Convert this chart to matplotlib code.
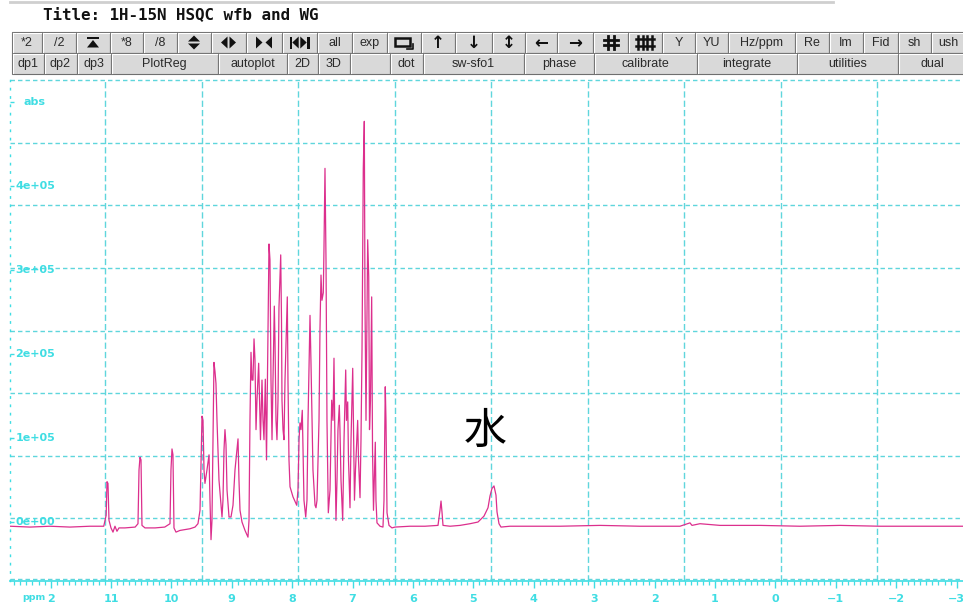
import numpy as np
import matplotlib
matplotlib.use('Agg')
import matplotlib.pyplot as plt
from matplotlib.patches import Rectangle, Polygon
from matplotlib.transforms import blended_transform_factory

plt.rcParams['lines.scale_dashes'] = False

CYAN = '#3fdde3'
GRID = '#5fd6dc'
PINK = '#dc2f8d'

# ---- 1H trace: ppm / intensity (units of 1e5) ----
left_ppm = [12.67, 12.34, 12.01, 11.68, 11.35, 11.12, 11.08, 11.066, 11.05, 11.033,
            11.00, 10.967, 10.934, 10.901, 10.868, 10.77, 10.60, 10.553, 10.536, 10.52,
            10.503, 10.487, 10.437, 10.27, 10.11, 10.023, 10.007, 9.99, 9.974, 9.957,
            9.924, 9.858, 9.692, 9.609, 9.56]
left_int = [-0.05, -0.06, -0.05, -0.06, -0.05, -0.05, 0.08, 0.48, 0.46, 0.02,
            -0.07, -0.12, -0.05, -0.11, -0.07, -0.07, -0.06, -0.02, 0.62, 0.77,
            0.74, -0.04, -0.07, -0.07, -0.06, -0.02, 0.62, 0.87, 0.80, -0.07,
            -0.12, -0.10, -0.08, -0.06, -0.02]

amide_ppm = [9.526, 9.493, 9.477, 9.460, 9.444, 9.411, 9.377, 9.361, 9.344, 9.328,
             9.311, 9.295, 9.278, 9.262, 9.245, 9.212, 9.179, 9.162, 9.146, 9.129,
             9.113, 9.096, 9.079, 9.046, 9.013, 8.980, 8.947, 8.914, 8.897, 8.881,
             8.864, 8.831, 8.781, 8.732, 8.715, 8.699, 8.682, 8.666, 8.649, 8.632,
             8.616, 8.599, 8.583, 8.555, 8.541, 8.525, 8.500, 8.483, 8.467, 8.445,
             8.425, 8.401, 8.384, 8.368, 8.351, 8.334, 8.318, 8.296, 8.285, 8.268,
             8.252, 8.235, 8.219, 8.190, 8.177, 8.169, 8.152, 8.136, 8.119, 8.081,
             8.070, 8.053, 8.036, 7.987, 7.925, 7.904, 7.887, 7.871, 7.854, 7.833,
             7.821, 7.805, 7.776, 7.755, 7.738, 7.714, 7.705, 7.689, 7.672, 7.656,
             7.622, 7.606, 7.589, 7.556, 7.540, 7.523, 7.507, 7.485, 7.474, 7.457,
             7.440, 7.424, 7.402, 7.374, 7.346, 7.325, 7.308, 7.291, 7.275, 7.258,
             7.242, 7.220, 7.209, 7.192, 7.164, 7.142, 7.114, 7.101, 7.081, 7.068,
             7.043, 7.026, 6.998, 6.985, 6.969, 6.952, 6.916, 6.902, 6.877, 6.861,
             6.844, 6.823, 6.806, 6.795, 6.778, 6.750, 6.733, 6.720, 6.704, 6.684,
             6.670, 6.654, 6.637, 6.624, 6.613, 6.596, 6.546, 6.497, 6.480, 6.459,
             6.447, 6.430, 6.397, 6.348]
amide_int = [0.14, 1.26, 1.21, 0.62, 0.46, 0.62, 0.80, 0.26, -0.21, 0.02,
             0.98, 1.90, 1.79, 1.65, 1.21, 0.50, 0.20, 0.06, 0.26, 0.86,
             1.10, 0.92, 0.38, 0.06, 0.06, 0.20, 0.62, 0.86, 0.99, 0.50,
             0.14, 0.00, -0.10, -0.18, 0.02, 1.21, 2.02, 1.69, 1.69, 2.18,
             1.93, 1.10, 1.45, 1.89, 1.45, 0.98, 1.69, 1.21, 0.98, 1.70,
             0.74, 2.29, 3.31, 3.12, 1.69, 0.98, 1.69, 2.57, 2.17, 1.21,
             0.98, 1.45, 2.55, 3.18, 2.40, 1.45, 1.10, 0.98, 1.69, 2.68,
             1.69, 0.74, 0.42, 0.30, 0.20, 0.38, 0.98, 1.18, 1.10, 1.33,
             0.86, 0.26, 0.06, 0.26, 1.21, 2.17, 2.46, 1.90, 1.21, 0.62,
             0.20, 0.17, 0.26, 1.21, 2.29, 2.94, 2.64, 2.73, 3.24, 4.21,
             3.10, 1.21, 0.11, 0.38, 1.45, 1.21, 1.95, 0.86, 0.02, 0.50,
             1.10, 1.39, 1.10, 0.50, 0.02, 0.98, 1.81, 1.21, 1.43, 0.74,
             0.17, 0.98, 1.83, 1.10, 0.26, 0.62, 1.21, 0.74, 0.29, 0.98,
             2.05, 4.21, 4.77, 2.64, 1.21, 3.36, 2.92, 1.10, 1.45, 2.68,
             0.86, 0.14, 0.62, 0.95, 0.26, -0.01, -0.05, -0.06, 0.26, 1.61,
             1.21, 0.11, -0.04, -0.07]

tail_ppm = [6.298, 6.050, 5.801, 5.586, 5.553, 5.536, 5.520, 5.503, 5.387, 5.222,
            5.056, 4.924, 4.825, 4.758, 4.725, 4.692, 4.659, 4.626, 4.609, 4.576,
            4.543, 4.394, 4.063, 3.566, 2.904, 2.242, 1.580, 1.414, 1.381, 1.249,
            0.917, 0.255, -0.407, -1.069, -1.732, -2.394, -3.106]
tail_int = [-0.06, -0.05, -0.05, -0.04, 0.14, 0.25, 0.12, -0.04, -0.05, -0.04,
            -0.02, 0.00, 0.07, 0.17, 0.31, 0.40, 0.43, 0.32, 0.12, -0.02,
            -0.06, -0.05, -0.05, -0.05, -0.04, -0.05, -0.05, -0.01, -0.04, -0.02,
            -0.04, -0.04, -0.05, -0.04, -0.05, -0.05, -0.05]

x_ticks = [12, 11, 10, 9, 8, 7, 6, 5, 4, 3, 2, 1, 0, -1, -2, -3]
x_tick_labels = ['2', '11', '10', '9', '8', '7', '6', '5', '4', '3', '2', '1', '0',
                 '\u22121', '\u22122', '\u22123']
y_ticks = [0, 1e5, 2e5, 3e5, 4e5, 5e5]
y_tick_labels = ['0e+00', '1e+05', '2e+05', '3e+05', '4e+05', 'abs']

title_text = 'Title: 1H-15N HSQC wfb and WG'
water_label = '\u6c34'

row1_labels = ['*2', '/2', '@top', '*8', '/8', '@updown', '@lr', '@rl', '@lrbar', 'all',
               'exp', '@rect', '\u2191', '\u2193', '\u2195', '\u2190', '\u2192', '@grid',
               '@grid2', 'Y', 'YU', 'Hz/ppm', 'Re', 'Im', 'Fid', 'sh', 'ush']
row1_edges = [12, 42, 76, 110, 143, 177, 211, 246, 282, 317, 352, 387, 421, 455, 492,
              525, 557, 593, 628, 662, 695, 728, 795, 829, 863, 898, 931, 966]
row2_labels = ['dp1', 'dp2', 'dp3', 'PlotReg', 'autoplot', '2D', '3D', '', 'dot',
               'sw-sfo1', 'phase', 'calibrate', 'integrate', 'utilities', 'dual']
row2_edges = [12, 44, 77, 111, 218, 287, 318, 350, 390, 423, 524, 594, 697, 797, 898, 966]

W, H = 963, 608
fig = plt.figure(figsize=(W / 100, H / 100), dpi=100)

# ---- window chrome in pixel coordinates ----
chrome = fig.add_axes([0, 0, 1, 1])
chrome.set_xlim(0, W)
chrome.set_ylim(H, 0)
chrome.axis('off')

chrome.plot([10, 833], [2, 2], color='#cfcfcf', lw=2)
chrome.text(43, 15, title_text, family='DejaVu Sans Mono', fontweight='bold',
            fontsize=11.4, ha='left', va='center', color='#111111')


def poly(pts):
    chrome.add_patch(Polygon(pts, closed=True, facecolor='#111111', edgecolor='none'))


def icon(name, cx, cy):
    if name == '@top':
        chrome.add_patch(Rectangle((cx - 6, cy - 6), 12, 2.2, facecolor='#111111'))
        poly([(cx - 6, cy + 5), (cx + 6, cy + 5), (cx, cy - 2.5)])
    elif name == '@updown':
        poly([(cx - 6, cy - 1), (cx + 6, cy - 1), (cx, cy - 7)])
        poly([(cx - 6, cy + 1), (cx + 6, cy + 1), (cx, cy + 7)])
    elif name == '@lr':
        poly([(cx - 1, cy - 6), (cx - 1, cy + 6), (cx - 7.5, cy)])
        poly([(cx + 1, cy - 6), (cx + 1, cy + 6), (cx + 7.5, cy)])
    elif name == '@rl':
        poly([(cx - 8, cy - 6), (cx - 8, cy + 6), (cx - 1.5, cy)])
        poly([(cx + 8, cy - 6), (cx + 8, cy + 6), (cx + 1.5, cy)])
    elif name == '@lrbar':
        chrome.add_patch(Rectangle((cx - 10, cy - 6), 2.8, 12, facecolor='#111111'))
        chrome.add_patch(Rectangle((cx + 7.2, cy - 6), 2.8, 12, facecolor='#111111'))
        poly([(cx - 7.2, cy), (cx - 0.8, cy - 6), (cx - 0.8, cy + 6)])
        poly([(cx + 0.8, cy - 6), (cx + 0.8, cy + 6), (cx + 7.2, cy)])
    elif name == '@rect':
        chrome.add_patch(Rectangle((cx - 9, cy - 5), 15, 8.5, facecolor='none',
                                   edgecolor='#111111', lw=1.8))
        chrome.plot([cx + 9, cx + 9, cx + 3], [cy + 1, cy + 6, cy + 6], color='#111111', lw=1.2)
    elif name == '@grid':
        for dx in (-3, 3):
            chrome.plot([cx + dx, cx + dx], [cy - 6.5, cy + 6.5], color='#111111', lw=2)
        for dy in (-2.5, 2.5):
            chrome.plot([cx - 7, cx + 7], [cy + dy, cy + dy], color='#111111', lw=2)
    elif name == '@grid2':
        for dx in (-7, -2.4, 2.4, 7):
            chrome.plot([cx + dx, cx + dx], [cy - 6.5, cy + 6.5], color='#111111', lw=1.8)
        for dy in (-3.5, 3.5):
            chrome.plot([cx - 9, cx + 9], [cy + dy, cy + dy], color='#111111', lw=1.8)


def button_row(labels, edges, y0, y1):
    for lab, a, b in zip(labels, edges[:-1], edges[1:]):
        chrome.add_patch(Rectangle((a, y0), b - a, y1 - y0, facecolor='#d9d9d9',
                                   edgecolor='#6f6f6f', lw=0.8))
        chrome.plot([a + 1.2, b - 1.2], [y0 + 1.3, y0 + 1.3], color='white', lw=0.8)
        chrome.plot([a + 1.3, a + 1.3], [y0 + 1.2, y1 - 1.2], color='white', lw=0.8)
        cx, cy = (a + b) / 2, (y0 + y1) / 2
        if lab.startswith('@'):
            icon(lab, cx, cy)
        elif lab in ('\u2191', '\u2193', '\u2195', '\u2190', '\u2192'):
            chrome.text(cx, cy + 0.5, lab, ha='center', va='center', fontsize=12,
                        fontweight='bold', color='#111111', family='DejaVu Sans')
        elif lab:
            chrome.text(cx, cy + 0.5, lab, ha='center', va='center', fontsize=9,
                        color='#2a2a2a', family='Liberation Sans')


button_row(row1_labels, row1_edges, 32, 53)
button_row(row2_labels, row2_edges, 53, 74)

# ---- spectrum axes ----
px_left, px_right, px_top, px_bot = 10, 963, 80, 581
ax = fig.add_axes([px_left / W, 1 - px_bot / H, (px_right - px_left) / W,
                   (px_bot - px_top) / H])
ax.patch.set_alpha(0)
ax.set_xlim(12.672, -3.106)
ax.set_ylim(-0.702e5, 5.262e5)

for s in ('top', 'right'):
    ax.spines[s].set_visible(False)
ax.spines['left'].set_color(CYAN)
ax.spines['left'].set_linestyle((0, (1, 5)))
ax.spines['left'].set_linewidth(1.0)
ax.spines['bottom'].set_color(CYAN)
ax.spines['bottom'].set_linewidth(1.2)

# dashed grid (screen grid, not tied to the ppm scale)
dash = (0, (3.2, 2.2))
for k in range(0, 9):
    f = k / 8
    ax.plot([0, 1], [f + (0.003 if k == 0 else 0)] * 2, transform=ax.transAxes,
            color=GRID, lw=1.0, ls=dash, zorder=1, clip_on=False)
for k in range(9):
    f = (105 + 96.5 * k - px_left) / (px_right - px_left)
    ax.plot([f, f], [0, 1], transform=ax.transAxes, color=GRID, lw=1.0,
            ls=(0, (4.5, 2.2)), zorder=1)

ppm = np.array(left_ppm + amide_ppm + tail_ppm)
inten = np.array(left_int + amide_int + tail_int) * 1e5
ax.plot(ppm, inten, color=PINK, lw=0.9, zorder=3)

ax.text(4.81, 1.07e5, water_label, fontsize=31, ha='center', va='center',
        family=['Noto Sans CJK JP', 'DejaVu Sans'], color='black', zorder=4)

# x ruler
ax.set_xticks(x_ticks, x_tick_labels)
ax.set_xticks(np.arange(-3.0, 12.7, 0.1), minor=True)
ax.tick_params(axis='x', which='major', direction='out', length=5, width=1,
               color=CYAN, labelcolor=CYAN, labelsize=8.0, pad=4.0)
ax.tick_params(axis='x', which='minor', direction='out', length=2.8, width=0.9, color=CYAN)
for t in ax.get_xticklabels():
    t.set_fontweight('bold')
chrome.text(34, 597, 'ppm', fontsize=6.8, fontweight='bold', color=CYAN,
            ha='center', va='center')

# y labels drawn inside the frame
ax.set_yticks(y_ticks)
ax.set_yticklabels([])
ax.tick_params(axis='y', direction='in', length=3, width=1, color=CYAN)
ytr = blended_transform_factory(ax.transAxes, ax.transData)
for v, lab in zip(y_ticks, y_tick_labels):
    xoff = 0.0137 if lab == 'abs' else 0.0055
    ax.text(xoff, v, lab, transform=ytr, ha='left', va='center', color=CYAN,
            fontsize=8, fontweight='bold', zorder=2)

fig.savefig('out.png', dpi=100)
